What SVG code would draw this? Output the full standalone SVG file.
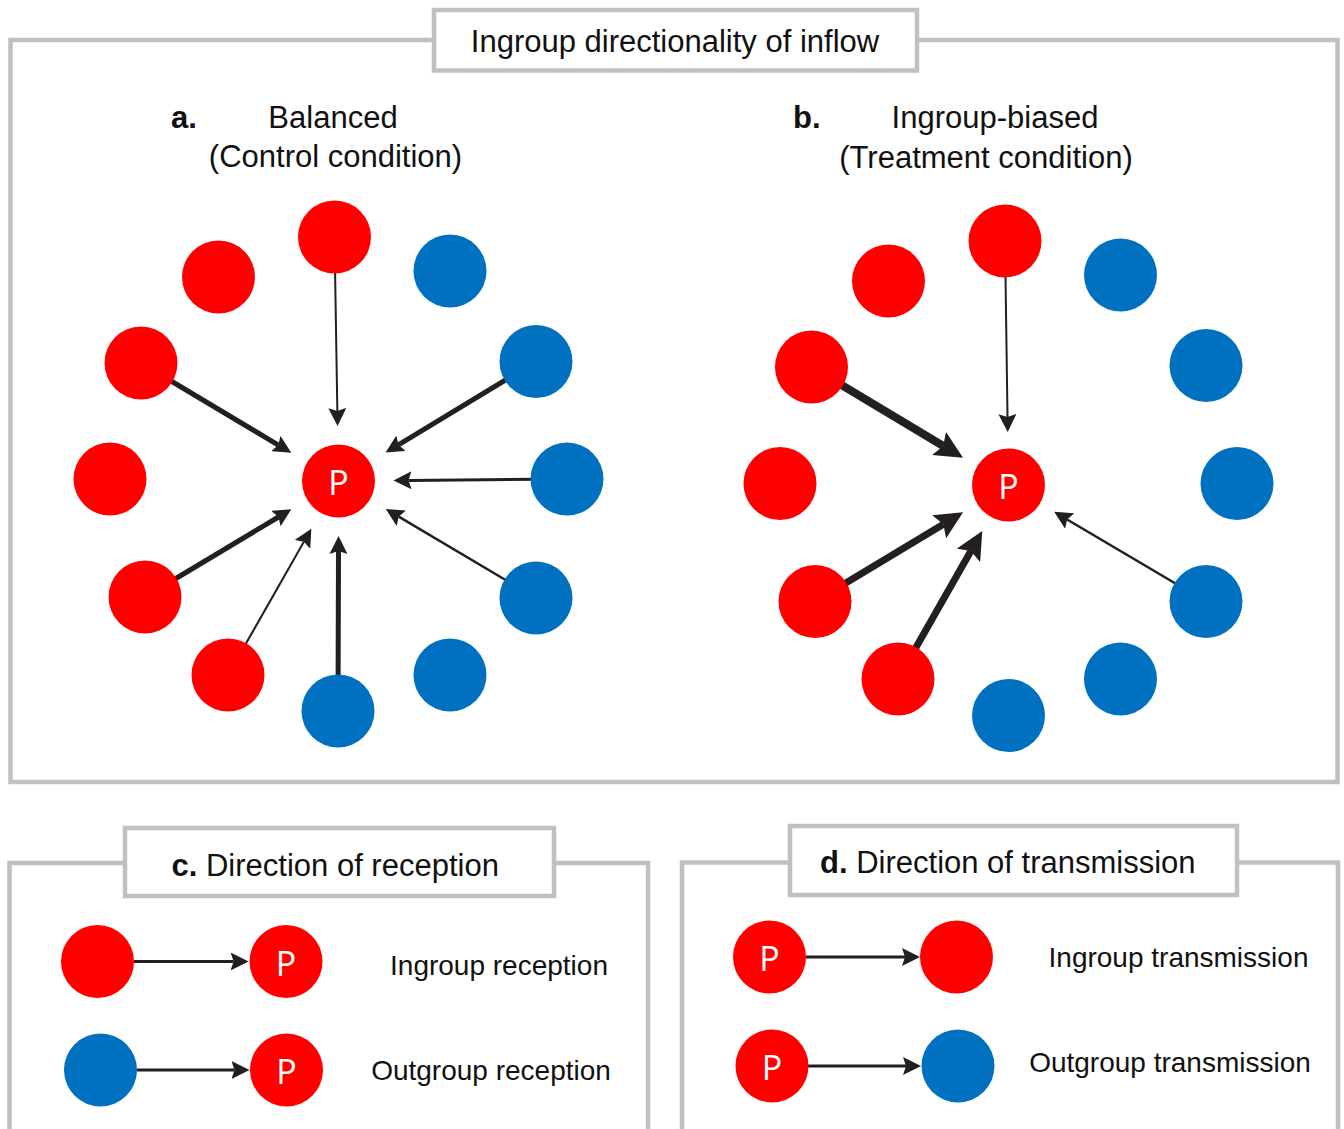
<svg xmlns="http://www.w3.org/2000/svg" width="1344" height="1129" viewBox="0 0 1344 1129">
<defs>
<style>
.frame{fill:none;stroke:#C0C0C0;stroke-width:4.5}
.tbox{fill:#FFFFFF;stroke:#C0C0C0;stroke-width:4.5}
.red{fill:#FF0000}
.blue{fill:#0070C0}
.lbl{font-family:"Liberation Sans",Arial,sans-serif;fill:#111111}
.h{font-size:31px}
.b{font-weight:bold}
.leg{font-size:28px}
.p{font-family:"Open Sans","Noto Sans",sans-serif;font-size:34px;fill:#FFFFFF;text-anchor:middle}
.c{text-anchor:middle}
.ar{stroke:#231F20;fill:none;stroke-linecap:butt}
</style>
<marker id="ah" viewBox="0 0 18 18" markerWidth="18" markerHeight="18" refX="3" refY="9" orient="auto" markerUnits="userSpaceOnUse">
<path d="M0,0 L18,9 L0,18 L3,9 z" fill="#231F20"/>
</marker>
<marker id="ahL" viewBox="0 0 28 27" markerWidth="28" markerHeight="27" refX="5" refY="13.5" orient="auto" markerUnits="userSpaceOnUse">
<path d="M0,0 L28,13.5 L0,27 L5,13.5 z" fill="#231F20"/>
</marker>
</defs>
<rect width="1344" height="1129" fill="#FFFFFF"/>

<g id="frames">
<rect class="frame" x="10.5" y="40" width="1327" height="742"/>
<rect class="tbox" x="434" y="10" width="483" height="60.5"/>
<rect class="frame" x="9.5" y="863" width="638.5" height="320"/>
<rect class="tbox" x="125" y="828" width="429" height="68"/>
<rect class="frame" x="682" y="862.5" width="656" height="320"/>
<rect class="tbox" x="790" y="826" width="447" height="69"/>
</g>

<g id="titles">
<text class="lbl h c" x="675" y="52">Ingroup directionality of inflow</text>
<text class="lbl h b" x="171" y="128">a.</text>
<text class="lbl h c" x="333" y="128">Balanced</text>
<text class="lbl h c" x="335.5" y="167">(Control condition)</text>
<text class="lbl h b" x="793" y="128">b.</text>
<text class="lbl h c" x="995" y="128">Ingroup-biased</text>
<text class="lbl h c" x="986" y="168">(Treatment condition)</text>
<text class="lbl h" x="171.5" y="876"><tspan class="b">c.</tspan> Direction of reception</text>
<text class="lbl h" x="820" y="873"><tspan class="b">d.</tspan> Direction of transmission</text>
</g>

<g id="connectors">
<!-- panel a -->
<line class="ar" x1="334.5" y1="237" x2="337.35" y2="411" stroke-width="2" marker-end="url(#ah)"/>
<line class="ar" x1="141" y1="363" x2="278.4" y2="445.1" stroke-width="5" marker-end="url(#ah)"/>
<line class="ar" x1="536" y1="361.5" x2="398.4" y2="444.8" stroke-width="5" marker-end="url(#ah)"/>
<line class="ar" x1="567" y1="479" x2="408.5" y2="480.4" stroke-width="3" marker-end="url(#ah)"/>
<line class="ar" x1="536" y1="598" x2="398.7" y2="516.7" stroke-width="2.5" marker-end="url(#ah)"/>
<line class="ar" x1="338" y1="711" x2="338.5" y2="551" stroke-width="5" marker-end="url(#ah)"/>
<line class="ar" x1="228" y1="675" x2="303.9" y2="541.8" stroke-width="2" marker-end="url(#ah)"/>
<line class="ar" x1="145" y1="597" x2="278.5" y2="517" stroke-width="5" marker-end="url(#ah)"/>
<!-- panel b -->
<line class="ar" x1="1005" y1="241" x2="1007.5" y2="417" stroke-width="2" marker-end="url(#ah)"/>
<line class="ar" x1="811.5" y1="367" x2="943.3" y2="446" stroke-width="8" marker-end="url(#ahL)"/>
<line class="ar" x1="815" y1="601.5" x2="943.4" y2="524.2" stroke-width="7" marker-end="url(#ahL)"/>
<line class="ar" x1="898" y1="679" x2="970.9" y2="551.1" stroke-width="7" marker-end="url(#ahL)"/>
<line class="ar" x1="1206" y1="601.5" x2="1067.1" y2="519.5" stroke-width="2.5" marker-end="url(#ah)"/>
<!-- legends -->
<line class="ar" x1="134" y1="961.5" x2="233.6" y2="961.5" stroke-width="3" marker-end="url(#ah)"/>
<line class="ar" x1="137" y1="1070" x2="234.5" y2="1070" stroke-width="3" marker-end="url(#ah)"/>
<line class="ar" x1="806" y1="957" x2="905" y2="957" stroke-width="3" marker-end="url(#ah)"/>
<line class="ar" x1="808" y1="1066" x2="906" y2="1066" stroke-width="3" marker-end="url(#ah)"/>
</g>

<g id="panel-a">
<circle id="a-top" class="red" cx="334.5" cy="237" r="36.5"/>
<circle id="a-ul" class="red" cx="218.5" cy="277" r="36.5"/>
<circle id="a-ur" class="blue" cx="450" cy="271" r="36.5"/>
<circle id="a-l1" class="red" cx="141" cy="363" r="36.5"/>
<circle id="a-r1" class="blue" cx="536" cy="361.5" r="36.5"/>
<circle id="a-l2" class="red" cx="110" cy="479" r="36.5"/>
<circle id="a-r2" class="blue" cx="567" cy="479" r="36.5"/>
<circle id="a-l3" class="red" cx="145" cy="597" r="36.5"/>
<circle id="a-r3" class="blue" cx="536" cy="598" r="36.5"/>
<circle id="a-bl" class="red" cx="228" cy="675" r="36.5"/>
<circle id="a-br" class="blue" cx="450" cy="675" r="36.5"/>
<circle id="a-bot" class="blue" cx="338" cy="711" r="36.5"/>
<g id="a-P"><circle class="red" cx="338.5" cy="481" r="36.5"/><text class="p" x="338.5" y="495">P</text></g>
</g>

<g id="panel-b">
<circle id="b-top" class="red" cx="1005" cy="241" r="36.5"/>
<circle id="b-ul" class="red" cx="888.5" cy="281" r="36.5"/>
<circle id="b-ur" class="blue" cx="1120.5" cy="275" r="36.5"/>
<circle id="b-l1" class="red" cx="811.5" cy="367" r="36.5"/>
<circle id="b-r1" class="blue" cx="1206" cy="365.5" r="36.5"/>
<circle id="b-l2" class="red" cx="780" cy="483.5" r="36.5"/>
<circle id="b-r2" class="blue" cx="1237" cy="483.5" r="36.5"/>
<circle id="b-l3" class="red" cx="815" cy="601.5" r="36.5"/>
<circle id="b-r3" class="blue" cx="1206" cy="601.5" r="36.5"/>
<circle id="b-bl" class="red" cx="898" cy="679" r="36.5"/>
<circle id="b-br" class="blue" cx="1120.5" cy="679" r="36.5"/>
<circle id="b-bot" class="blue" cx="1008.5" cy="715.5" r="36.5"/>
<g id="b-P"><circle class="red" cx="1008.5" cy="485" r="36.5"/><text class="p" x="1008.5" y="499">P</text></g>
</g>

<g id="legend-c">
<circle id="c1-src" class="red" cx="97.5" cy="961.5" r="36.5"/>
<g id="c1-P"><circle class="red" cx="286" cy="961.5" r="36.5"/><text class="p" x="286" y="975.5">P</text></g>
<text class="lbl leg c" x="499" y="975">Ingroup reception</text>
<circle id="c2-src" class="blue" cx="100.5" cy="1070" r="36.5"/>
<g id="c2-P"><circle class="red" cx="286.5" cy="1070" r="36.5"/><text class="p" x="286.5" y="1084">P</text></g>
<text class="lbl leg c" x="491" y="1080">Outgroup reception</text>
</g>

<g id="legend-d">
<g id="d1-P"><circle class="red" cx="769.5" cy="957" r="36.5"/><text class="p" x="769.5" y="971">P</text></g>
<circle id="d1-dst" class="red" cx="956.5" cy="957" r="36.5"/>
<text class="lbl leg c" x="1178.5" y="967">Ingroup transmission</text>
<g id="d2-P"><circle class="red" cx="772" cy="1066" r="36.5"/><text class="p" x="772" y="1080">P</text></g>
<circle id="d2-dst" class="blue" cx="958" cy="1066" r="36.5"/>
<text class="lbl leg c" x="1170" y="1072">Outgroup transmission</text>
</g>
</svg>
